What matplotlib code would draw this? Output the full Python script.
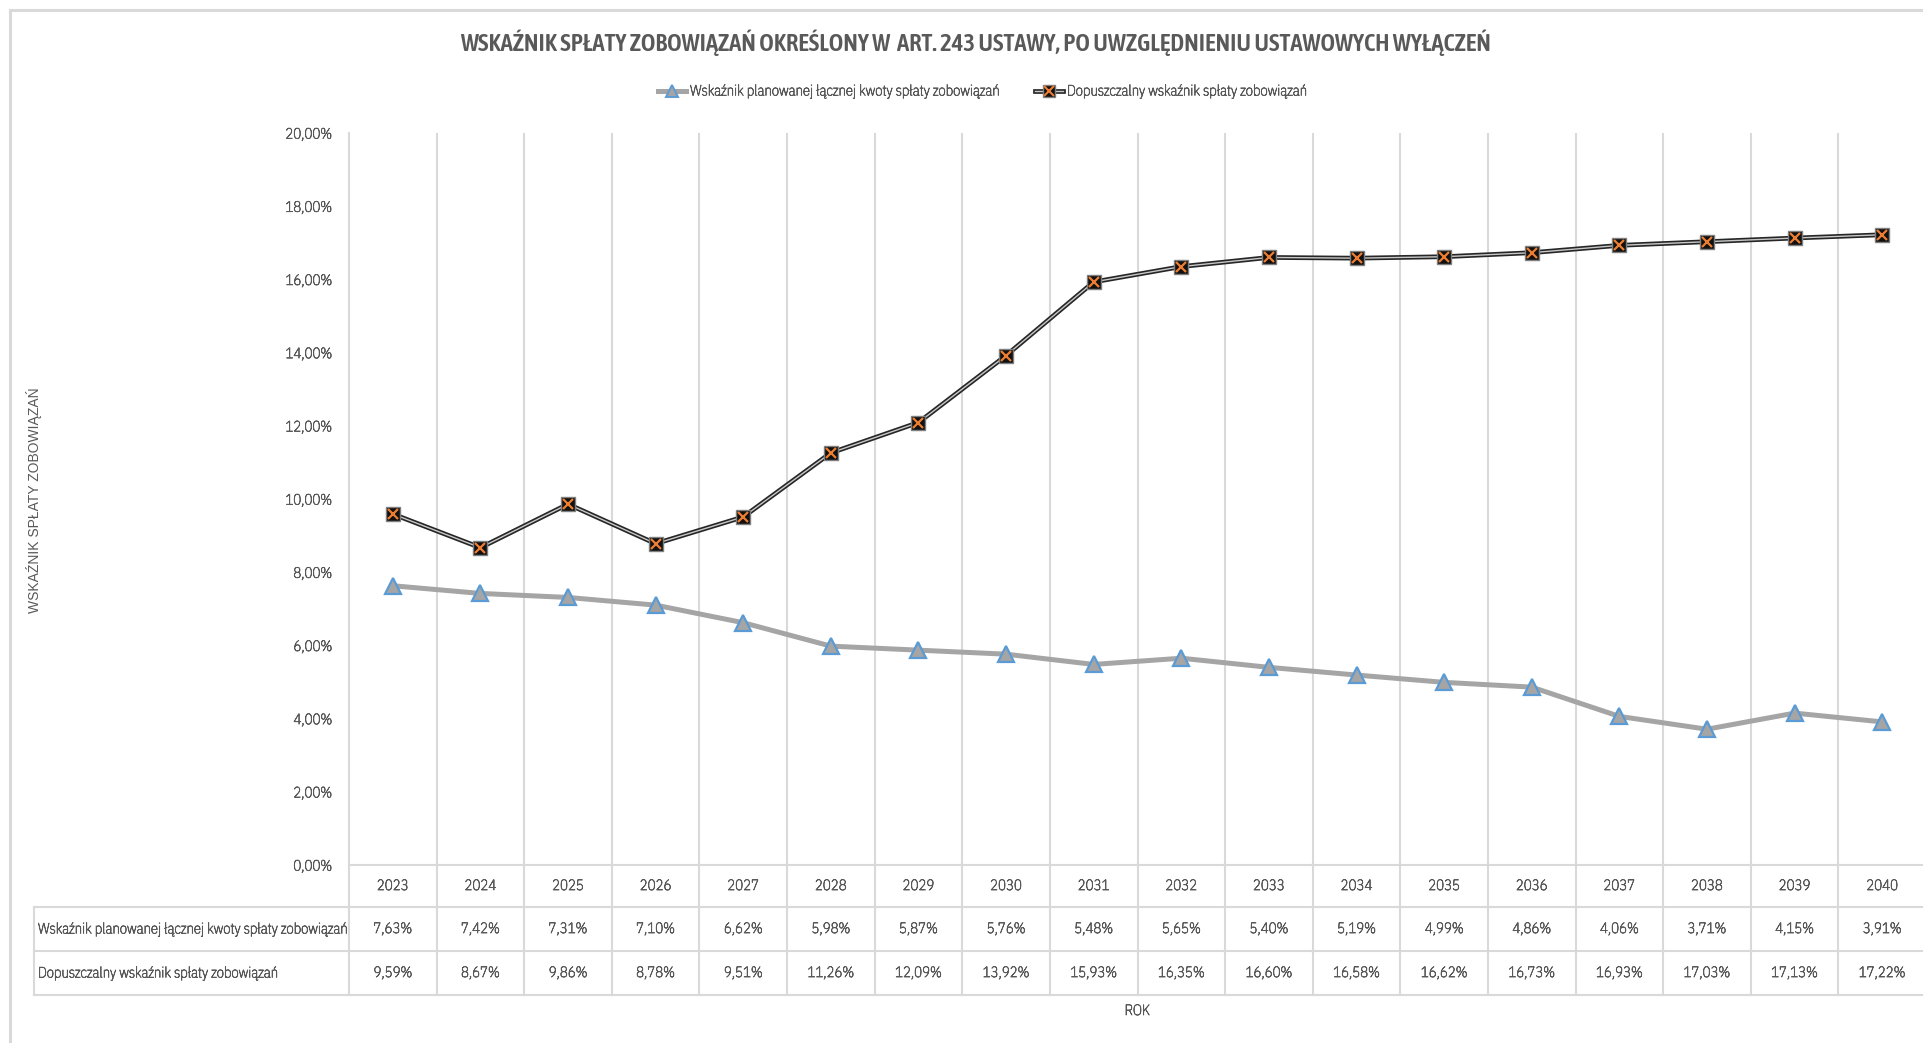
import matplotlib
matplotlib.use("Agg")
import matplotlib.pyplot as plt
from matplotlib import font_manager as fm
from matplotlib import patheffects as pe
from matplotlib.font_manager import FontProperties
from matplotlib.lines import Line2D
from matplotlib.ticker import FuncFormatter

years = ["2023", "2024", "2025", "2026", "2027", "2028", "2029", "2030", "2031",
         "2032", "2033", "2034", "2035", "2036", "2037", "2038", "2039", "2040"]
planned = [7.63, 7.42, 7.31, 7.10, 6.62, 5.98, 5.87, 5.76, 5.48,
           5.65, 5.40, 5.19, 4.99, 4.86, 4.06, 3.71, 4.15, 3.91]
allowed = [9.59, 8.67, 9.86, 8.78, 9.51, 11.26, 12.09, 13.92, 15.93,
           16.35, 16.60, 16.58, 16.62, 16.73, 16.93, 17.03, 17.13, 17.22]
name_planned = "Wskaźnik planowanej łącznej kwoty spłaty zobowiązań"
name_allowed = "Dopuszczalny wskaźnik spłaty zobowiązań"
title = "WSKAŹNIK SPŁATY ZOBOWIĄZAŃ OKREŚLONY W  ART. 243 USTAWY, PO UWZGLĘDNIENIU USTAWOWYCH WYŁĄCZEŃ"
ylabel = "WSKAŹNIK SPŁATY ZOBOWIĄZAŃ"
xlabel = "ROK"
yticks = [0, 2, 4, 6, 8, 10, 12, 14, 16, 18, 20]


def weight_of(f):
    w = f.weight
    if isinstance(w, int):
        return w
    try:
        return int(w)
    except Exception:
        s = str(w).lower()
        if "bold" in s:
            return 700
        if "light" in s:
            return 300
        return 400


cands = [f for f in fm.fontManager.ttflist
         if f.style == "normal" and ("Condensed" in f.name or "Narrow" in f.name
                                     or "condensed" in str(f.fname).lower()
                                     or "narrow" in str(f.fname).lower())
         and "dejavu" not in str(f.fname).lower()]
reg = None
bold = None
for f in sorted(cands, key=weight_of):
    w = weight_of(f)
    if w < 600 and reg is None:
        reg = f
    if w >= 600 and bold is None:
        bold = f
if reg is None:
    reg = bold
LIGHT = reg is not None and weight_of(reg) < 400


def fp(size, bold_=False):
    e = bold if bold_ else reg
    if e is not None:
        return FontProperties(fname=e.fname, size=size)
    return FontProperties(family=["Liberation Sans", "DejaVu Sans"], size=size * 0.85,
                          weight="bold" if bold_ else "normal")


W, H = 1923, 1043
fig = plt.figure(figsize=(W / 100, H / 100), dpi=100)
TXT = "#595959"
TTL = "#595959"
GRID = "#D9D9D9"
FS = 10.6
THICK = [pe.withStroke(linewidth=0.55, foreground=TXT)] if LIGHT else []


def fx(px):
    return px / W


def fy(py):
    return 1 - py / H


def ftext(x, y, s, **kw):
    t = fig.text(x, y, s, **kw)
    t.set_path_effects(THICK)
    return t


# outer border
fig.add_artist(Line2D([fx(10), fx(1923)], [fy(10), fy(10)], color=GRID, lw=2.2))
fig.add_artist(Line2D([fx(10), fx(10)], [fy(10), fy(1043)], color=GRID, lw=2.2))

left, right, top, bottom = 349, 1926, 133, 865
ax = fig.add_axes([fx(left), fy(bottom), fx(right - left), (bottom - top) / H])
n = len(years)
xs = list(range(n))
ax.set_xlim(-0.5, n - 0.5)
ax.set_ylim(0, 20)
for s in ["top", "right"]:
    ax.spines[s].set_visible(False)
ax.spines["left"].set_color(GRID)
ax.spines["left"].set_linewidth(1.5)
ax.spines["bottom"].set_color(GRID)
ax.spines["bottom"].set_linewidth(1.5)
ax.set_xticks([])
ax.set_yticks(yticks)
ax.yaxis.set_major_formatter(FuncFormatter(lambda v, p: f"{v:.2f}%".replace(".", ",")))
ax.tick_params(axis="y", length=0, pad=12, labelcolor=TXT)
for lab in ax.get_yticklabels():
    lab.set_fontproperties(fp(FS))
    lab.set_path_effects(THICK)
for i in range(1, n + 1):
    ax.axvline(i - 0.5, color=GRID, lw=1.5, zorder=0)

ax.plot(xs, planned, color="#A5A5A5", lw=3.6, marker="^", markersize=11,
        markerfacecolor="#A5A5A5", markeredgecolor="#5B9BD5", markeredgewidth=1.6,
        zorder=3, clip_on=False, solid_capstyle="round")
ax.plot(xs, allowed, color="#262626", lw=3.4, zorder=3, clip_on=False)
ax.plot(xs, allowed, color="#C8C8C8", lw=1.0, zorder=3.1, clip_on=False)
ax.plot(xs, allowed, ls="none", marker="s", markersize=9.5, markerfacecolor="#111111",
        markeredgecolor="#7F7F7F", markeredgewidth=1.0, zorder=4, clip_on=False)
ax.plot(xs, allowed, ls="none", marker="x", markersize=7, markeredgecolor="#ED7D31",
        markeredgewidth=1.6, zorder=5, clip_on=False)

# title
fig.text(fx(975), fy(43), title, ha="center", va="center", fontproperties=fp(17.8, True),
         color=TTL)

# legend
lg_y = fy(91)
fig.add_artist(Line2D([fx(658), fx(686)], [lg_y, lg_y], color="#A5A5A5", lw=3.6))
fig.add_artist(Line2D([fx(672)], [lg_y], marker="^", markersize=9, markerfacecolor="#A5A5A5",
                      markeredgecolor="#5B9BD5", markeredgewidth=1.4))
ftext(fx(690), lg_y, name_planned, ha="left", va="center", fontproperties=fp(FS), color=TXT)
fig.add_artist(Line2D([fx(1035), fx(1063)], [lg_y, lg_y], color="#262626", lw=3.4))
fig.add_artist(Line2D([fx(1035), fx(1063)], [lg_y, lg_y], color="#C8C8C8", lw=1.0))
fig.add_artist(Line2D([fx(1049)], [lg_y], marker="s", markersize=9, markerfacecolor="#111111",
                      markeredgecolor="#7F7F7F", markeredgewidth=1.0))
fig.add_artist(Line2D([fx(1049)], [lg_y], marker="x", markersize=6.5, markeredgecolor="#ED7D31",
                      markeredgewidth=1.5))
ftext(fx(1067), lg_y, name_allowed, ha="left", va="center", fontproperties=fp(FS), color=TXT)

# y label
fig.text(fx(34), fy(500), ylabel, rotation=90, ha="center", va="center", fontsize=10,
         color=TTL, family=["Liberation Sans", "DejaVu Sans"])

# data table
col_w = (right - left) / n
row_y = [865, 907, 951, 995]
for yy in row_y[1:]:
    fig.add_artist(Line2D([fx(34), fx(1923)], [fy(yy), fy(yy)], color=GRID, lw=1.5))
fig.add_artist(Line2D([fx(34), fx(34)], [fy(907), fy(995)], color=GRID, lw=1.5))
fig.add_artist(Line2D([fx(349), fx(349)], [fy(865), fy(995)], color=GRID, lw=1.5))
for i in range(1, n + 1):
    xx = left + i * col_w
    fig.add_artist(Line2D([fx(xx), fx(xx)], [fy(865), fy(995)], color=GRID, lw=1.5))


def fmt(v):
    return f"{v:.2f}%".replace(".", ",")


for i in range(n):
    cx = fx(left + (i + 0.5) * col_w)
    ftext(cx, fy(886), years[i], ha="center", va="center", fontproperties=fp(FS), color=TXT)
    ftext(cx, fy(929), fmt(planned[i]), ha="center", va="center", fontproperties=fp(FS), color=TXT)
    ftext(cx, fy(973), fmt(allowed[i]), ha="center", va="center", fontproperties=fp(FS), color=TXT)
ftext(fx(38), fy(929), name_planned, ha="left", va="center", fontproperties=fp(FS), color=TXT)
ftext(fx(38), fy(973), name_allowed, ha="left", va="center", fontproperties=fp(FS), color=TXT)

ftext(fx(1137), fy(1011), xlabel, ha="center", va="center", fontproperties=fp(FS), color=TXT)

fig.savefig("out.png", dpi=100)
